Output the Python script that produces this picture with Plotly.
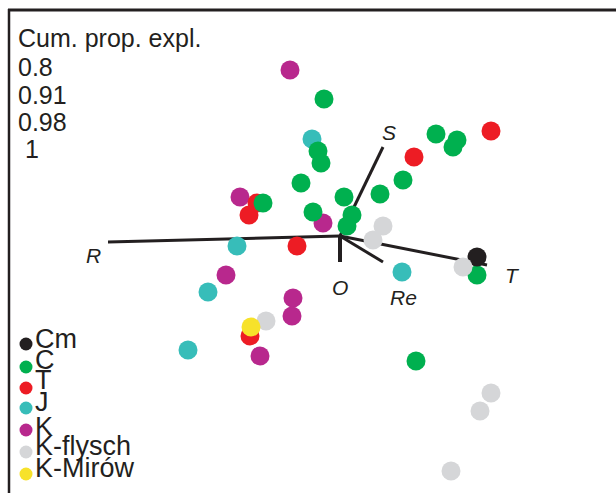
import plotly.graph_objects as go

W, H = 616, 493

# ---- data (ordination scores) ----
groups = ["Cm", "C", "T", "J", "K", "K-flysch", "K-Mirów"]
colors = {"Cm": "#231f20", "C": "#00b04f", "T": "#ed1c24", "J": "#37bdb9",
          "K": "#b8288d", "K-flysch": "#d5d6d8", "K-Mirów": "#f7e22a"}

cm_x = [1.37]
cm_y = [-0.21]
c_x = [-0.16, -0.22, -0.19, -0.39, 0.04, -0.77, -0.27, 0.12, 0.07, 0.96, 1.17, 1.13, 0.63, 0.40, 1.37, 0.76]
c_y = [1.37, 0.85, 0.73, 0.53, 0.39, 0.33, 0.24, 0.21, 0.10, 1.02, 0.96, 0.89, 0.56, 0.42, -0.39, -1.25]
t_x = [1.51, 0.74, -0.83, -0.91, -0.43, -0.90]
t_y = [1.05, 0.79, 0.33, 0.21, -0.10, -1.00]
j_x = [-0.28, -1.03, -1.32, -1.52, 0.62]
j_y = [0.97, -0.10, -0.56, -1.14, -0.36]
k_x = [-0.50, -1.00, -0.17, -1.14, -0.47, -0.48, -0.80]
k_y = [1.66, 0.39, 0.13, -0.39, -0.62, -0.80, -1.20]
kf_x = [0.43, 0.33, 1.23, -0.74, 1.51, 1.40, 1.11]
kf_y = [0.10, -0.04, -0.31, -0.85, -1.57, -1.75, -2.35]
km_x = [-0.89]
km_y = [-0.91]

vec_names = ["R", "S", "T", "Re", "O"]
vec_x = [-2.32, 0.43, 1.47, 0.43, 0.00]
vec_y = [-0.06, 0.89, -0.29, -0.26, -0.26]

cum_title = "Cum. prop. expl."
cum_values = ["0.8", "0.91", "0.98", " 1"]

# ---- layout helpers (pixel -> paper) ----
def px(x):
    return x / W

def py(y):
    return 1 - y / H

XR = [-3.40, 2.76]
YR = [-2.57, 2.36]
INK = "#231f20"
FONT = "Liberation Sans, Arial, sans-serif"

fig = go.Figure()

# vectors (from origin)
lx, ly = [], []
for vx, vy, n in zip(vec_x, vec_y, vec_names):
    lx += [0, vx, None]
    ly += [0, vy, None]
fig.add_trace(go.Scatter(x=lx, y=ly, mode="lines", line=dict(color=INK, width=3),
                         hoverinfo="skip", showlegend=False))
# thicker O vector
fig.add_trace(go.Scatter(x=[0, vec_x[4]], y=[0, vec_y[4]], mode="lines",
                         line=dict(color=INK, width=4), hoverinfo="skip", showlegend=False))

series = [("K", k_x, k_y), ("J", j_x, j_y), ("T", t_x, t_y), ("C", c_x, c_y),
          ("Cm", cm_x, cm_y), ("K-flysch", kf_x, kf_y), ("K-Mirów", km_x, km_y)]
for name, xs, ys in series:
    fig.add_trace(go.Scatter(x=xs, y=ys, mode="markers", name=name,
                             marker=dict(color=colors[name], size=19, line=dict(width=0)),
                             showlegend=False))

# vector labels
label_shift = {"R": (-15, -13), "S": (6, 15), "T": (25, -10), "Re": (20, -35), "O": (0, -25)}
for vx, vy, n in zip(vec_x, vec_y, vec_names):
    sx, sy = label_shift[n]
    fig.add_annotation(x=vx, y=vy, text="<i>%s</i>" % n, showarrow=False,
                       xshift=sx, yshift=sy, font=dict(size=21, color=INK, family=FONT),
                       xanchor="center", yanchor="middle")

# cumulative proportion text
fig.add_annotation(x=px(16), y=py(38), xref="paper", yref="paper", text=cum_title,
                   showarrow=False, xanchor="left", yanchor="middle",
                   font=dict(size=25, color=INK, family=FONT))
for i, v in enumerate(cum_values):
    fig.add_annotation(x=px(16), y=py(67 + i * 27.5), xref="paper", yref="paper", text=v,
                       showarrow=False, xanchor="left", yanchor="middle",
                       font=dict(size=25, color=INK, family=FONT))

# manual legend
leg_dot_y = [344, 367, 388, 408, 430, 452, 474]
leg_txt_y = [339, 360, 380, 402, 427, 446, 468]
fig.add_trace(go.Scatter(x=[26] * len(groups), y=leg_dot_y, xaxis="x2", yaxis="y2",
                         mode="markers", marker=dict(color=[colors[g] for g in groups], size=13),
                         hoverinfo="skip", showlegend=False))
for g, ty in zip(groups, leg_txt_y):
    fig.add_annotation(x=px(33), y=py(ty), xref="paper", yref="paper", text=g,
                       showarrow=False, xanchor="left", yanchor="middle",
                       font=dict(size=27, color=INK, family=FONT))

# frame lines
fig.add_shape(type="line", xref="paper", yref="paper", x0=px(8), x1=1, y0=py(10), y1=py(10),
              line=dict(color=INK, width=3))
fig.add_shape(type="line", xref="paper", yref="paper", x0=px(9), x1=px(9), y0=py(9), y1=0,
              line=dict(color=INK, width=2.5))

fig.update_layout(
    width=W, height=H, margin=dict(l=0, r=0, t=0, b=0),
    plot_bgcolor="white", paper_bgcolor="white", showlegend=False,
    xaxis=dict(range=XR, visible=False, fixedrange=True),
    yaxis=dict(range=YR, visible=False, fixedrange=True),
    xaxis2=dict(range=[0, W], visible=False, overlaying="x", domain=[0, 1]),
    yaxis2=dict(range=[H, 0], visible=False, overlaying="y", domain=[0, 1]),
)

fig.write_html("out.html")
